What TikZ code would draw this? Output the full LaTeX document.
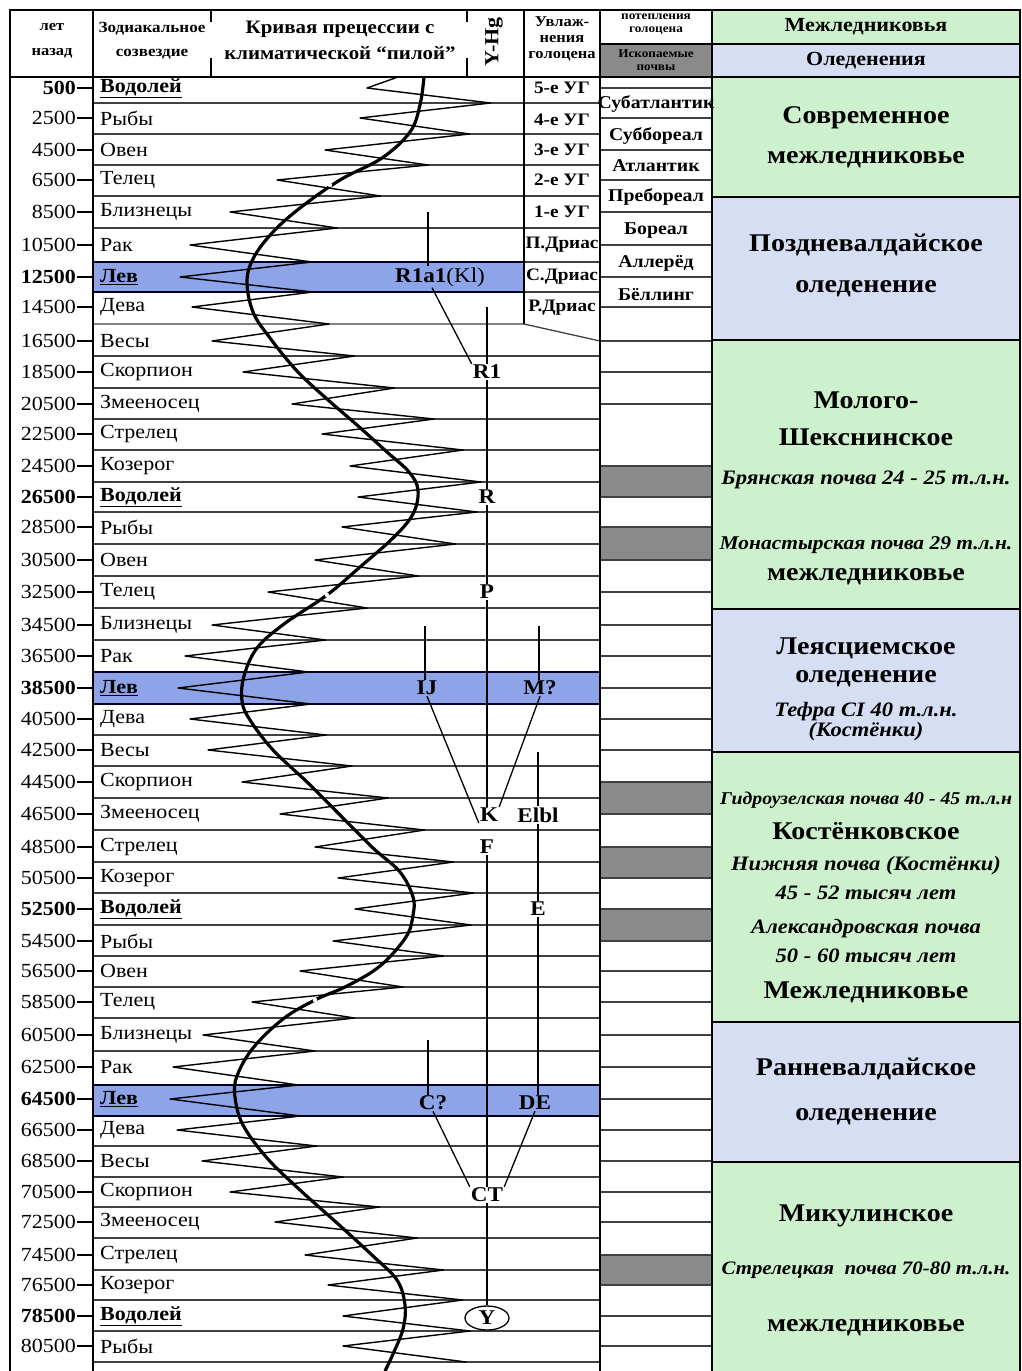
\documentclass[tikz,border=0pt]{standalone}
\usepackage{fontspec}
\setmainfont{Liberation Serif}[FakeStretch=1.1]
\usetikzlibrary{positioning, calc, shapes.geometric}
\definecolor{glgreen}{RGB}{205,240,205}
\definecolor{glblue}{RGB}{214,222,244}
\definecolor{leoblue}{RGB}{142,164,232}
\definecolor{soilgray}{RGB}{138,138,138}
\newcommand{\bsign}[1]{\underline{\textbf{#1}}}
\newcommand{\fsz}[1]{\fontsize{#1}{#1}\selectfont}
\newcommand{\fszl}[2]{\fontsize{#1}{#2}\selectfont}

\tikzset{
  yearlab/.style={anchor=east, inner sep=0pt, font=\fsz{20}},
  signlab/.style={anchor=west, inner sep=0pt, font=\fsz{20}},
  hglab/.style={inner sep=1pt, font=\bfseries\fsz{21}},
  uglab/.style={inner sep=0pt, font=\bfseries\fsz{17.5}},
  perlab/.style={inner sep=0pt, font=\bfseries\fsz{18}},
  headlab/.style={inner sep=0pt, align=center},
  stagelab/.style={inner sep=0pt, font=\bfseries\fsz{25.5}},
  soillab/.style={inner sep=0pt, font=\bfseries\itshape\fsz{20.5}},
  rowline/.style={black!75, line width=1.3pt},
  bandline/.style={black!85!blue, line width=2pt},
  frameline/.style={black, line width=1.8pt},
  treeline/.style={black, line width=1.3pt},
}

\begin{document}
\begin{tikzpicture}[x=1pt, y=-1pt]
\useasboundingbox (0,0) rectangle (1021,1371);

% Row centres, row borders and the tips of the "saw"
\def\cens{{88,118,150,180,212,245,277,307,341,372,404,434,466,497,527,560,592,625,656,688,719,750,782,814,847,878,909,941,971,1002,1035,1067,1099,1130,1161,1192,1222,1255,1285,1316,1346}}
\def\bnds{{77,103,134,165,196,228,262,292,324,356,388,419,450,482,512,544,576,608,640,672,704,735,766,798,830,862,893,925,956,987,1018,1051,1085,1116,1146,1177,1207,1238,1270,1300,1331,1362}}
\def\tips{{175,367,360,325,277,230,190,180,192,212,243,292,322,350,358,342,315,268,212,185,178,190,208,242,280,315,338,355,333,300,252,203,173,170,177,202,230,275,305,328,343,343,335}}

% Right column: interglacials and glaciations
\fill[glgreen] (712,10) rectangle (1020,44);
\fill[glblue] (712,44) rectangle (1020,77);
\foreach \a/\b/\col in {77/197/glgreen, 197/340/glblue, 340/609/glgreen, 609/752/glblue, 752/1022/glgreen, 1022/1162/glblue, 1162/1371/glgreen}
  \fill[\col] (712,\a) rectangle (1020,\b);
\foreach \b in {197,340,609,752,1022,1162}
  \draw[frameline] (712,\b) -- (1020,\b);
\fill[soilgray] (600,44) rectangle (712,77);

% Leo bands
\fill[leoblue] (93,262) rectangle (524,292);
\fill[leoblue] (93,672) rectangle (600,704);
\fill[leoblue] (93,1085) rectangle (600,1116);

% Row lines
\foreach \b in {103,134,165,196,228,356,388,419,450,482,512,544,576,608,640,735,766,798,830,862,893,925,956,987,1018,1051,1146,1177,1207,1238,1270,1300,1331,1362}
  \draw[rowline] (93,\b) -- (600,\b);
\draw[rowline] (93,324) -- (524,324) -- (600,341);
\draw[rowline] (524,262) -- (600,262);
\draw[rowline] (524,292) -- (600,292);
\draw[bandline] (93,262) rectangle (524,292);
\draw[bandline] (93,672) rectangle (600,704);
\draw[bandline] (93,1085) rectangle (600,1116);

% Holocene warmings and fossil soils
\foreach \c in {88,118,150,180,212,245,277,307,341,372,404,466,497,527,560,592,625,656,688,719,750,782,814,847,878,909,941,971,1002,1035,1067,1099,1130,1161,1192,1222,1255,1285,1316,1346}
  \draw[rowline] (600,\c) -- (712,\c);
\foreach \a/\b in {466/497, 527/560, 782/814, 847/878, 909/941, 1255/1285}
  \filldraw[fill=soilgray, draw=black!75, line width=1.3pt] (600,\a) rectangle (712,\b);

% Climatic saw
\foreach \i in {0,...,40} {
  \pgfmathtruncatemacro{\ia}{\i+1}
  \pgfmathtruncatemacro{\ib}{\i+2}
  \pgfmathsetmacro{\tp}{\tips[\i]}
  \pgfmathsetmacro{\tc}{\tips[\ia]}
  \pgfmathsetmacro{\tn}{\tips[\ib]}
  \pgfmathsetmacro{\lx}{(\tp+\tc)/2+127}
  \pgfmathsetmacro{\rx}{(\tc+\tn)/2+127}
  \pgfmathsetmacro{\ytop}{\bnds[\i]}
  \pgfmathsetmacro{\ymid}{\cens[\i]}
  \pgfmathsetmacro{\ybot}{\bnds[\ia]}
  \draw[black, line width=1.4pt, line join=round, line cap=round] (\lx,\ytop) -- (\tc,\ymid) -- (\rx,\ybot);
}

% Precession curve
\draw[black, line width=3.2pt] plot[smooth, tension=0.6] coordinates {
  (424,77) (420,105) (410,132) (382,158) (340,180) (300,208) (273,232) (254,257) (247,281)
  (253,312) (270,338) (297,371) (327,399) (357,425) (387,452) (409,472) (418,490) (413,514)
  (393,538) (360,567) (327,595) (284,624) (257,648) (244,676) (242,701) (250,720) (273,750)
  (307,782) (340,815) (373,848) (400,872) (413,897) (413,915) (406,937) (380,966) (347,986)
  (315,1000) (283,1019) (253,1048) (237,1076) (235,1097) (243,1125) (267,1158) (300,1190)
  (337,1223) (373,1256) (397,1280) (405,1305) (403,1329) (393,1354) (385,1371)};
% small breaks in the curve
\foreach \bx/\by in {330/185, 327/595, 315/1000}
  \fill[white] (\bx,\by) circle (2.2);

% Frame and column borders
\draw[frameline] (10,1371) -- (10,10) -- (1020,10) -- (1020,1371);
\draw[frameline] (10,77) -- (1020,77);
\draw[frameline] (600,44) -- (1020,44);
\draw[frameline] (93,10) -- (93,1371);
\draw[frameline] (524,10) -- (524,324);
\draw[frameline] (600,10) -- (600,1371);
\draw[frameline] (712,10) -- (712,1371);
\draw[frameline] (467,10) -- (467,22);
\draw[frameline] (467,58) -- (467,77);
\draw[frameline] (211,10) -- (211,22);
\draw[frameline] (211,58) -- (211,77);

% Header
\node[headlab, font={\bfseries\fszl{15}{25}}] (hdyr) at (52,41) {лет\\назад};
\node[headlab, font={\bfseries\fszl{15.5}{24}}] (hdsign) at (152,41) {Зодиакальное\\созвездие};
\node[headlab, font={\bfseries\fszl{19}{26}}] (hdcurve) at (340,40) {Кривая прецессии с\\климатической “пилой”};
\node[headlab, font={\bfseries\fsz{20}}, rotate=90] (hdhg) at (494,42) {Y-Hg};
\node[headlab, font={\bfseries\fszl{15}{16}}] (hdug) at (562,39) {Увлаж-\\нения\\голоцена};
\node[headlab, font={\bfseries\fszl{12}{13}}] (hdwarm) at (656,24) {потепления\\голоцена};
\node[headlab, font={\bfseries\fszl{12}{13}}] (hdsoil) at (656,60) {Ископаемые\\почвы};
\node[headlab, font={\bfseries\fsz{20}}] (hdinter) at (866,27) {Межледниковья};
\node[headlab, font={\bfseries\fsz{20}}] (hdglac) at (866,61) {Оледенения};

% Years and zodiac signs
\foreach \c/\yrs/\nm [count=\i] in {
  88/{\textbf{500}}/{\bsign{Водолей}}, 118/2500/Рыбы, 150/4500/Овен, 180/6500/Телец,
  212/8500/Близнецы, 245/10500/Рак, 277/{\textbf{12500}}/{\bsign{Лев}}, 307/14500/Дева,
  341/16500/Весы, 372/18500/Скорпион, 404/20500/Змееносец, 434/22500/Стрелец,
  466/24500/Козерог, 497/{\textbf{26500}}/{\bsign{Водолей}}, 527/28500/Рыбы, 560/30500/Овен,
  592/32500/Телец, 625/34500/Близнецы, 656/36500/Рак, 688/{\textbf{38500}}/{\bsign{Лев}},
  719/40500/Дева, 750/42500/Весы, 782/44500/Скорпион, 814/46500/Змееносец,
  847/48500/Стрелец, 878/50500/Козерог, 909/{\textbf{52500}}/{\bsign{Водолей}}, 941/54500/Рыбы,
  971/56500/Овен, 1002/58500/Телец, 1035/60500/Близнецы, 1067/62500/Рак,
  1099/{\textbf{64500}}/{\bsign{Лев}}, 1130/66500/Дева, 1161/68500/Весы, 1192/70500/Скорпион,
  1222/72500/Змееносец, 1255/74500/Стрелец, 1285/76500/Козерог, 1316/{\textbf{78500}}/{\bsign{Водолей}},
  1346/80500/Рыбы} {
  \draw[line width=1.3pt] (77,\c) -- (93,\c);
  \node[yearlab] (yr\i) at (76,\c) {\yrs};
  \node[signlab] (sg\i) at (100,\c) {\nm};
}

% Holocene humidifications
\foreach \c/\t [count=\i] in {88/5-е УГ, 120/4-е УГ, 150/3-е УГ, 180/2-е УГ, 212/1-е УГ, 245/П.Дриас, 277/С.Дриас, 308/Р.Дриас}
  \node[uglab] (ug\i) at (562,\c) {\t};

% Holocene periods
\foreach \c/\t [count=\i] in {104/Субатлантик, 136/Суббореал, 166/Атлантик, 197/Пребореал, 231/Бореал, 263/Аллерёд, 295/Бёллинг}
  \node[perlab] (per\i) at (656,\c) {\t};

% Y-Hg tree
\node[hglab] (R1a1) at (440,277) {R1a1\mdseries(Kl)};
\node[hglab] (R1) at (487,372) {R1};
\node[hglab] (R) at (487,497) {R};
\node[hglab] (P) at (487,592) {P};
\node[hglab] (IJ) at (427,688) {IJ};
\node[hglab] (M) at (540,688) {M?};
\node[hglab] (K) at (489,815) {K};
\node[hglab] (E1b1) at (538,815) {Elbl};
\node[hglab] (F) at (487,847) {F};
\node[hglab] (E) at (538,909) {E};
\node[hglab] (C) at (433,1103) {C?};
\node[hglab] (DE) at (535,1103) {DE};
\node[hglab] (CT) at (487,1195) {CT};
\node[hglab, draw, ellipse, line width=1.3pt, minimum width=44pt, minimum height=24pt, inner sep=0pt] (Y) at (487,1318) {Y};

\coordinate (r1a1top) at (428,212);
\coordinate (r1top) at (487,307);
\coordinate (ijtop) at (425,626);
\coordinate (mtop) at (539,626);
\coordinate (e1b1top) at (538,752);
\coordinate (ctop) at (428,1040);

\draw[treeline] (r1a1top) -- (r1a1top |- R1a1.north);
\draw[treeline] ($(R1a1.south)+(-8,0)$) -- (R1.north west);
\draw[treeline] (r1top) -- (R1.north);
\draw[treeline] (R1) -- (R);
\draw[treeline] (R) -- (P);
\draw[treeline] (P.south) -- (P.south |- K.north);
\draw[treeline] (ijtop) -- (ijtop |- IJ.north);
\draw[treeline] (mtop) -- (mtop |- M.north);
\draw[treeline] (IJ.south) -- (K.south west);
\draw[treeline] (M.south) -- (K.north east);
\draw[treeline] (e1b1top) -- (E1b1.north);
\draw[treeline] (E1b1) -- (E);
\draw[treeline] (F) -- (CT);
\draw[treeline] (E.south) -- (E.south |- DE.north);
\draw[treeline] (ctop) -- (ctop |- C.north);
\draw[treeline] (C.south) -- (CT.north west);
\draw[treeline] (DE.south) -- (CT.north east);
\draw[treeline] (CT) -- (Y);

% Stage names
\node[stagelab] (st1) at (866,118) {Современное};
\node[stagelab] (st2) at (866,160) {межледниковье};
\node[stagelab] (st3) at (866,245) {Поздневалдайское};
\node[stagelab] (st4) at (866,289) {оледенение};
\node[stagelab] (st5) at (866,400) {Молого-};
\node[stagelab] (st6) at (866,437) {Шекснинское};
\node[soillab] (so1) at (866,480) {Брянская почва 24 - 25 т.л.н.};
\node[soillab, font=\bfseries\itshape\fsz{19.5}] (so2) at (866,545) {Монастырская почва 29 т.л.н.};
\node[stagelab] (st7) at (866,577) {межледниковье};
\node[stagelab] (st8) at (866,648) {Леясциемское};
\node[stagelab] (st9) at (866,679) {оледенение};
\node[soillab] (so3) at (866,712) {Тефра CI 40 т.л.н.};
\node[soillab] (so4) at (866,732) {(Костёнки)};
\node[soillab, font=\bfseries\itshape\fsz{18}] (so5) at (866,800) {Гидроузелская почва 40 - 45 т.л.н};
\node[stagelab] (st10) at (866,831) {Костёнковское};
\node[soillab] (so6) at (866,866) {Нижняя почва (Костёнки)};
\node[soillab] (so7) at (866,893) {45 - 52 тысяч лет};
\node[soillab] (so8) at (866,929) {Александровская почва};
\node[soillab] (so9) at (866,956) {50 - 60 тысяч лет};
\node[stagelab] (st11) at (866,992) {Межледниковье};
\node[stagelab] (st12) at (866,1069) {Ранневалдайское};
\node[stagelab] (st13) at (866,1117) {оледенение};
\node[stagelab] (st14) at (866,1216) {Микулинское};
\node[soillab, font=\bfseries\itshape\fsz{19}] (so10) at (866,1270) {Стрелецкая\ \ почва 70-80 т.л.н.};
\node[stagelab] (st15) at (866,1328) {межледниковье};

\end{tikzpicture}
\end{document}
